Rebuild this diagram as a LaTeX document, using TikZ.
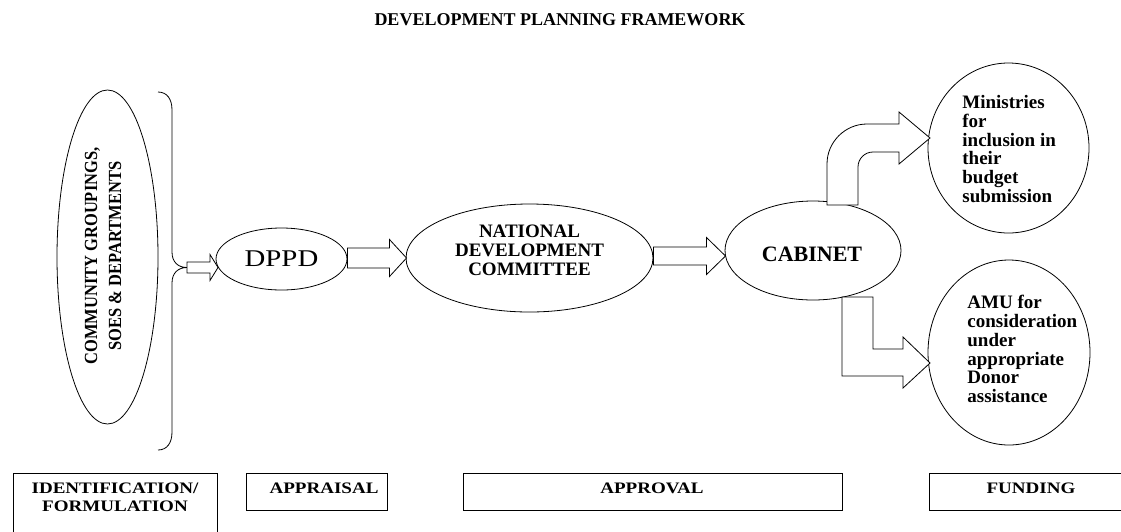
\documentclass[tikz,border=0pt]{standalone}
\usepackage{fontspec}
\setmainfont{Liberation Serif}
\newfontfamily\wideserif{Liberation Serif}[FakeStretch=1.19]
\newfontfamily\dppdserif{Liberation Serif}[FakeStretch=1.2]
\newfontfamily\condserif{Liberation Serif}[FakeStretch=0.89]
\usetikzlibrary{shapes.geometric,calc}
\newcommand\blockarr[5]{% start, tip, half shaft, half head, head length
  \draw[barrow] ($(#1|-#2)+(0,#3)$) -- ($(#2)+(-#5,#3)$) -- ($(#2)+(-#5,#4)$) -- (#2)
    -- ($(#2)+(-#5,-#4)$) -- ($(#2)+(-#5,-#3)$) -- ($(#1|-#2)+(0,-#3)$) -- cycle;}
\begin{document}
\begin{tikzpicture}[x=1pt,y=-1pt,line width=0.8pt,
  oval/.style={draw,ellipse,inner sep=0pt},
  barrow/.style={draw,fill=white,line join=miter},
  stagebox/.style={draw,inner sep=0pt,anchor=north west,minimum height=37pt},
  stagetext/.style={font=\wideserif\bfseries\fontsize{16}{18}\selectfont,align=center,inner sep=0pt},
  bodytext/.style={font=\bfseries\fontsize{19}{18.8}\selectfont,align=left,anchor=north west,inner sep=0pt}]
\useasboundingbox (0,0) rectangle (1121,531);

\node[font=\bfseries\fontsize{18}{22}\selectfont,inner sep=0pt] (title) at (560,20) {DEVELOPMENT PLANNING FRAMEWORK};

% community ellipse
\node[oval,minimum width=101pt,minimum height=334pt] (comm) at (107.5,257) {};
\node[rotate=90,font=\condserif\bfseries\fontsize{18.5}{24}\selectfont,align=center,inner sep=0pt] (commtext) at (103,256) {COMMUNITY GROUPINGS,\\SOES \& DEPARTMENTS};

% brace
\draw (158,92) .. controls (167,92) and (172,99) .. (172,110) -- (172,252)
  .. controls (172,262) and (178,267.5) .. (187,267.5)
  .. controls (178,267.5) and (172,273) .. (172,283) -- (172,432)
  .. controls (172,443) and (167,450) .. (158,450);
\coordinate (bracetip) at (187,267.5);

% main nodes
\node[oval,minimum width=131pt,minimum height=62pt,font=\dppdserif\fontsize{24}{28}\selectfont] (dppd) at (281.5,259) {DPPD};
\node[oval,minimum width=247pt,minimum height=108pt] (ndc) at (529.5,258) {};
\node[font=\bfseries\fontsize{19}{19}\selectfont,align=center,inner sep=0pt] (ndctext) at (529.5,250.5) {NATIONAL\\DEVELOPMENT\\COMMITTEE};
\node[oval,minimum width=176pt,minimum height=99pt] (cab) at (813,250.5) {};
\node[font=\bfseries\fontsize{22}{26}\selectfont,inner sep=0pt] (cabtext) at (812,254) {CABINET};
\node[oval,minimum width=161pt,minimum height=170pt] (min) at (1008.5,148) {};
\node[bodytext] (mintext) at (962,95) {Ministries\\for\\inclusion in\\their\\budget\\submission};
\node[oval,minimum width=162pt,minimum height=185pt] (amu) at (1009,352.5) {};
\node[bodytext] (amutext) at (967,295) {AMU for\\consideration\\under\\appropriate\\Donor\\assistance};

% arrow tips on borders
\coordinate (dppdin) at (218,267.5);
\coordinate (ndcin) at (406.5,258);
\coordinate (cabin) at (725.5,256);
\coordinate (minin) at (930,138);
\coordinate (amuin) at (930,363);

\blockarr{bracetip}{dppdin}{5.5}{13}{8}
\blockarr{dppd.east}{ndcin}{10}{18.5}{17}
\blockarr{ndc.east}{cabin}{9}{18.5}{19}

% bent arrows
\draw[barrow] (827,205) -- (827,164) .. controls (827,142) and (845,124) .. (867,124)
  -- (899,124) -- (899,112) -- (minin) -- (899,164) -- (899,152) -- (873,152)
  .. controls (864.7,152) and (858,158.7) .. (858,167) -- (858,205) -- cycle;
\draw[barrow] (842,297) -- (842,376) -- (903,376) -- (903,388) -- (amuin)
  -- (903,337) -- (903,349) -- (873,349) -- (873,297) -- cycle;

% stage boxes
\node[stagebox,minimum width=204pt,minimum height=80pt] (s1) at (13,473) {};
\node[stagebox,minimum width=141pt] (s2) at (246,473) {};
\node[stagebox,minimum width=379pt] (s3) at (463,473) {};
\node[stagebox,minimum width=210pt] (s4) at (929,473) {};
\node[stagetext] (t1) at (115,497) {IDENTIFICATION/\\FORMULATION};
\node[stagetext] (t2) at (324,488) {APPRAISAL};
\node[stagetext] (t3) at (652,488) {APPROVAL};
\node[stagetext] (t4) at (1031,488) {FUNDING};
\end{tikzpicture}
\end{document}
